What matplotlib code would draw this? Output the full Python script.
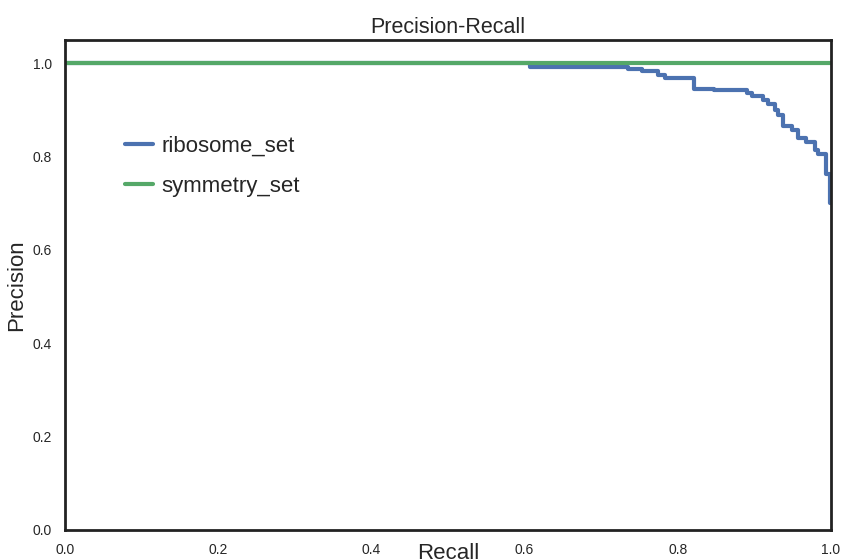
import matplotlib
matplotlib.use("Agg")
import matplotlib.pyplot as plt
import seaborn as sns

sns.set_style("white")
plt.rcParams['font.family'] = ['Liberation Sans', 'DejaVu Sans']

# ribosome_set PR curve (step points)
ribo_recall = [0.0, 0.607, 0.735, 0.753, 0.774, 0.783, 0.821, 0.847, 0.890, 0.897,
               0.911, 0.918, 0.927, 0.931, 0.937, 0.949, 0.957, 0.968, 0.979, 0.983,
               0.993, 0.999, 1.0]
ribo_precision = [1.0, 0.993, 0.988, 0.983, 0.974, 0.968, 0.946, 0.943, 0.937, 0.930,
                  0.921, 0.912, 0.901, 0.889, 0.865, 0.858, 0.839, 0.831, 0.814, 0.805,
                  0.762, 0.700, 0.700]

# symmetry_set: perfect precision
sym_recall = [0.0, 1.0]
sym_precision = [1.0, 1.0]

fig = plt.figure(figsize=(8.49, 5.6), dpi=100)
ax = fig.add_axes([0.0766, 0.0536, 0.9022, 0.875])

ax.plot(ribo_recall, ribo_precision, drawstyle='steps-post', lw=3,
        color='#4C72B0', label='ribosome_set')
ax.plot(sym_recall, sym_precision, lw=3, color='#55A868', label='symmetry_set')

ax.set_xlim(0, 1.0)
ax.set_ylim(0, 1.05)
ax.set_xticks([0.0, 0.2, 0.4, 0.6, 0.8, 1.0])
ax.set_yticks([0.0, 0.2, 0.4, 0.6, 0.8, 1.0])
ax.tick_params(labelsize=10, pad=6)

for s in ax.spines.values():
    s.set_color('#222222')
    s.set_linewidth(2)

ax.set_title('Precision-Recall', fontsize=15.5, pad=5)
ax.set_xlabel('Recall', fontsize=16, labelpad=-10)
ax.set_ylabel('Precision', fontsize=16, labelpad=4)

ax.legend(loc='upper left', bbox_to_anchor=(0.052, 0.845), frameon=False,
          fontsize=16, handlelength=1.25, handletextpad=0.4, labelspacing=0.85)

fig.savefig('out.png', dpi=100)
